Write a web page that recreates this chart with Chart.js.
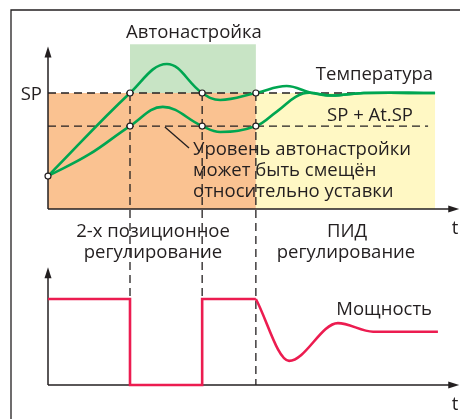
<!DOCTYPE html>
<html>
<head>
<meta charset="utf-8">
<script src="https://cdn.jsdelivr.net/npm/chart.js@4"></script>
<style>
  body { margin: 0; background: #fff; }
  #wrap { width: 460px; height: 419px; }
</style>
</head>
<body>
<div id="wrap"><canvas id="autotuneChart" width="460" height="419"></canvas></div>
<script>
// Phases on the time axis: start, autotune start, relay switch, PID start, end
const phaseTimes = [0, 20, 37.6, 50.7, 94.4];
const setPoint = 100;
const tuneLevelValue = 71.5;
const tuneBandTop = 142;

// Temperature (upper green curve)
const timeTemp = [0, 20, 29, 37.6, 42, 50.7, 58.2, 64.3, 69.2, 77, 94.4];
const temperature = [28.4, 100, 125, 100, 94, 100, 106, 100, 97.8, 100, 100];

// Temperature shifted by At.SP (lower green curve)
const timeLevel = [0, 10, 20, 28, 37.6, 42, 50.7, 55.8, 62.2, 69.2, 77, 94.4];
const tuneLevel = [28.4, 47, 71.5, 88, 71.5, 66.4, 71.5, 84, 99.5, 97.8, 100, 100];

// Power: on/off part and PID part
const timePowerOnOff = [0, 20, 20, 37.6, 37.6, 50.7];
const powerOnOff = [100, 100, 0, 0, 100, 100];
const timePowerPid = [50.7, 58.8, 70.7, 79.3, 95.1];
const powerPid = [100, 28, 72, 62, 62];

// Marked points
const markerTimes = [0, 20, 37.6, 50.7, 20, 37.6, 50.7];
const markerValues = [28.4, 100, 100, 100, 71.5, 71.5, 71.5];

const toXY = (xs, ys) => xs.map((t, i) => ({ x: t, y: ys[i] }));

// scale range so that value 0 sits at pxZero and value 100 at pxFull
const rangeFor = (pxZero, pxFull, height) => {
  const k = (pxZero - pxFull) / 100;
  return { min: -(height - pxZero) / k, max: pxZero / k };
};

const INK = "#231f20";
const GREEN = "#00a651";
const RED = "#ec1c50";
const FONT = '18.5px "Open Sans"';

const arrow = (ctx, x1, y1, x2, y2) => {
  const a = Math.atan2(y2 - y1, x2 - x1);
  ctx.beginPath();
  ctx.moveTo(x1, y1);
  ctx.lineTo(x2 - 8 * Math.cos(a), y2 - 8 * Math.sin(a));
  ctx.stroke();
  ctx.beginPath();
  ctx.moveTo(x2, y2);
  ctx.lineTo(x2 - 11 * Math.cos(a) + 3.5 * Math.sin(a), y2 - 11 * Math.sin(a) - 3.5 * Math.cos(a));
  ctx.lineTo(x2 - 11 * Math.cos(a) - 3.5 * Math.sin(a), y2 - 11 * Math.sin(a) + 3.5 * Math.cos(a));
  ctx.closePath();
  ctx.fill();
};

const diagramPlugin = {
  id: "diagram",
  beforeDatasetsDraw(chart) {
    const { ctx } = chart;
    const { x, yT, yP } = chart.scales;
    const px = (t) => x.getPixelForValue(t);
    const [t0, tA, tB, tC, tEnd] = phaseTimes;
    ctx.save();

    // background zones
    ctx.fillStyle = "#fac291";
    ctx.fillRect(px(t0), yT.getPixelForValue(setPoint), px(tC) - px(t0), yT.getPixelForValue(0) - yT.getPixelForValue(setPoint));
    ctx.fillStyle = "#fff8c4";
    ctx.fillRect(px(tC), yT.getPixelForValue(setPoint), px(tEnd) - px(tC), yT.getPixelForValue(0) - yT.getPixelForValue(setPoint));
    ctx.fillStyle = "#c8e4c5";
    ctx.fillRect(px(tA), yT.getPixelForValue(tuneBandTop), px(tC) - px(tA), yT.getPixelForValue(setPoint) - yT.getPixelForValue(tuneBandTop));

    // frame
    ctx.strokeStyle = INK;
    ctx.fillStyle = INK;
    ctx.lineWidth = 1.3;
    ctx.beginPath();
    ctx.moveTo(11, 419);
    ctx.lineTo(11, 10);
    ctx.lineTo(460, 10);
    ctx.stroke();

    // axes
    ctx.lineWidth = 1.5;
    arrow(ctx, px(0), yT.getPixelForValue(0), px(0), yT.getPixelForValue(140));
    arrow(ctx, px(0), yT.getPixelForValue(0), px(100.3), yT.getPixelForValue(0));
    arrow(ctx, px(0), yP.getPixelForValue(0), px(0), yP.getPixelForValue(137));
    arrow(ctx, px(0), yP.getPixelForValue(0), px(100.3), yP.getPixelForValue(0));

    // dashed guides
    ctx.lineWidth = 1.3;
    ctx.setLineDash([8, 5]);
    ctx.beginPath();
    ctx.moveTo(px(0), yT.getPixelForValue(setPoint));
    ctx.lineTo(px(tEnd), yT.getPixelForValue(setPoint));
    ctx.moveTo(px(0), yT.getPixelForValue(tuneLevelValue));
    ctx.lineTo(px(92.7), yT.getPixelForValue(tuneLevelValue));
    [tA, tB, tC].forEach((t) => {
      ctx.moveTo(px(t), yT.getPixelForValue(setPoint));
      ctx.lineTo(px(t), yP.getPixelForValue(0));
    });
    ctx.stroke();
    ctx.setLineDash([]);

    // callout line
    ctx.beginPath();
    ctx.moveTo(px(28.5), yT.getPixelForValue(70.7));
    ctx.lineTo(px(34.4), yT.getPixelForValue(52.6));
    ctx.stroke();
    ctx.restore();
  },
  afterDraw(chart) {
    const { ctx } = chart;
    ctx.save();
    ctx.fillStyle = INK;
    ctx.font = FONT;
    ctx.textBaseline = "alphabetic";
    const put = (text, x, y, align) => {
      ctx.textAlign = align;
      ctx.fillText(text, x, y);
    };
    put("Автонастройка", 194, 38, "center");
    put("SP", 42, 100, "right");
    put("Температура", 433, 80, "right");
    put("SP + At.SP", 413, 121, "right");
    put("Уровень автонастройки", 193, 155, "left");
    put("может быть смещён", 193, 176, "left");
    put("относительно уставки", 193, 197, "left");
    put("2-х позиционное", 153, 237, "center");
    put("регулирование", 153, 258, "center");
    put("ПИД", 347, 237, "center");
    put("регулирование", 346, 258, "center");
    put("t", 455, 234, "center");
    put("t", 455, 410, "center");
    put("Мощность", 432, 315, "right");
    ctx.restore();
  },
};

const rangeT = rangeFor(209, 93, 419);
const rangeP = rangeFor(385, 299, 419);

new Chart(document.getElementById("autotuneChart"), {
  type: "line",
  data: {
    datasets: [
      {
        data: toXY(markerTimes, markerValues),
        yAxisID: "yT",
        showLine: false,
        pointRadius: 3,
        pointBackgroundColor: "#fff",
        pointBorderColor: INK,
        pointBorderWidth: 1.2,
      },
      {
        data: toXY(timeTemp, temperature),
        yAxisID: "yT",
        borderColor: GREEN,
        borderWidth: 2.6,
        pointRadius: 0,
        tension: 0.4,
      },
      {
        data: toXY(timeLevel, tuneLevel),
        yAxisID: "yT",
        borderColor: GREEN,
        borderWidth: 2.6,
        pointRadius: 0,
        tension: 0.4,
      },
      {
        data: toXY(timePowerOnOff, powerOnOff),
        yAxisID: "yP",
        borderColor: RED,
        borderWidth: 2.6,
        pointRadius: 0,
        tension: 0,
      },
      {
        data: toXY(timePowerPid, powerPid),
        yAxisID: "yP",
        borderColor: RED,
        borderWidth: 2.6,
        pointRadius: 0,
        cubicInterpolationMode: "monotone",
      },
    ],
  },
  options: {
    responsive: false,
    animation: false,
    layout: { padding: 0, autoPadding: false },
    plugins: { legend: { display: false }, tooltip: { enabled: false } },
    scales: {
      x: { type: "linear", display: false, min: -48 / 4.1, max: (460 - 48) / 4.1 },
      yT: { type: "linear", display: false, min: rangeT.min, max: rangeT.max },
      yP: { type: "linear", display: false, min: rangeP.min, max: rangeP.max },
    },
  },
  plugins: [diagramPlugin],
});
</script>
</body>
</html>
